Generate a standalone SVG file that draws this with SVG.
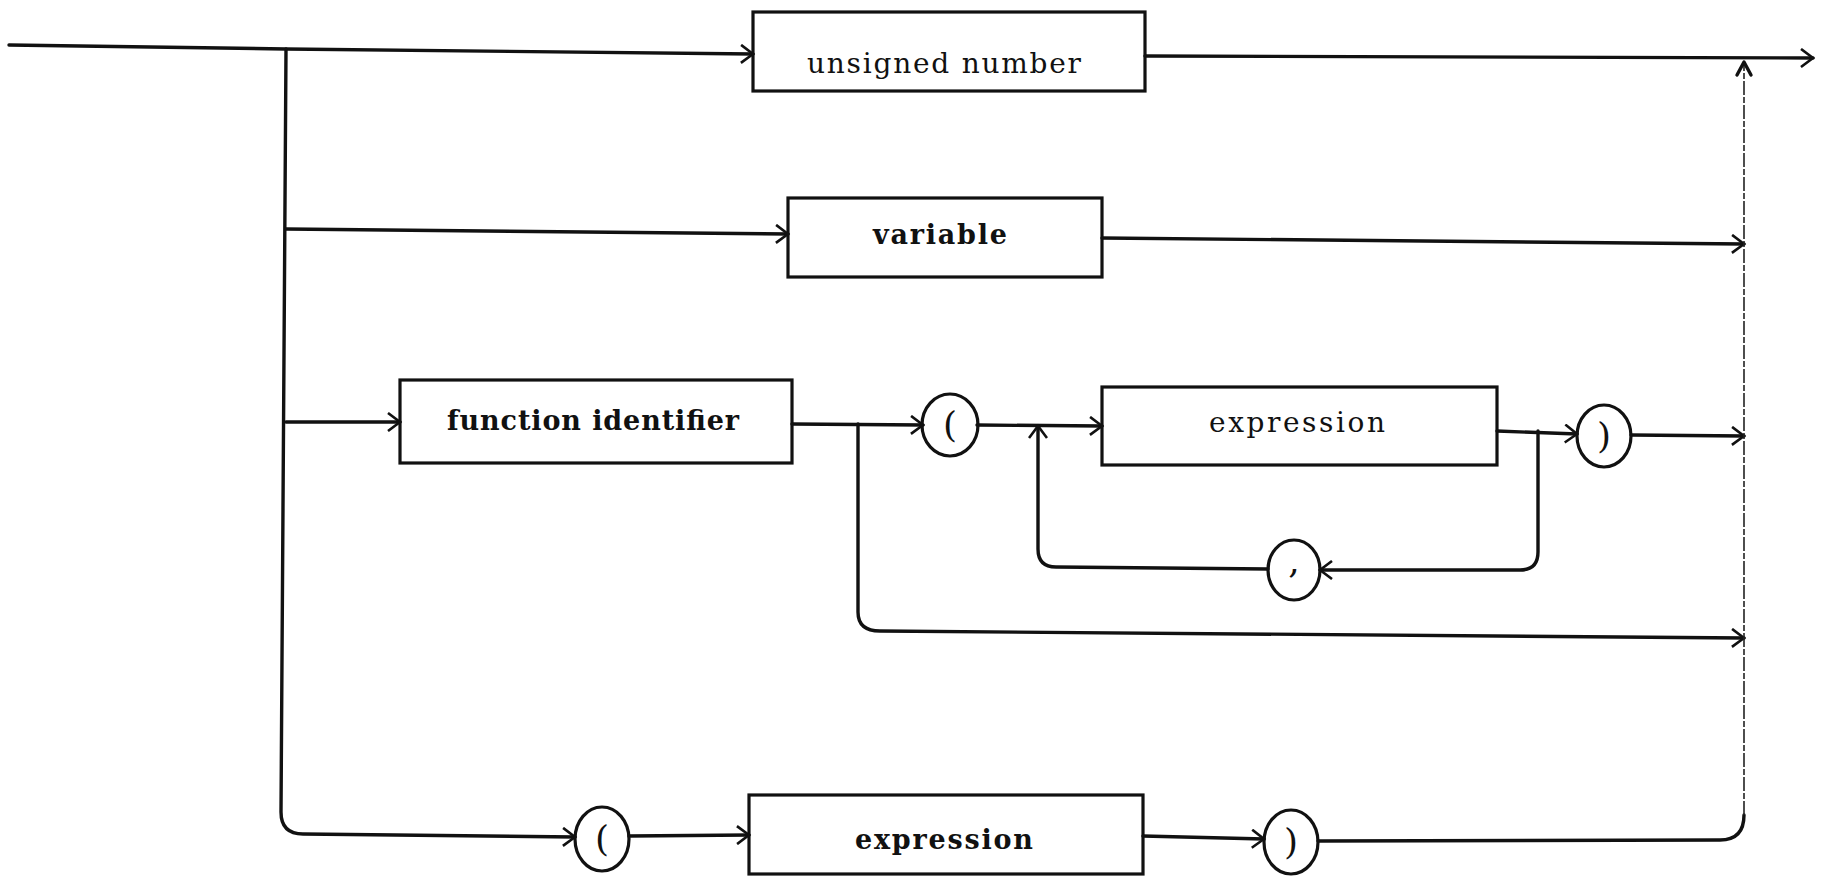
<svg xmlns="http://www.w3.org/2000/svg" width="1823" height="877" viewBox="0 0 1823 877">
<defs>
<marker id="arr" markerWidth="16" markerHeight="20" refX="13" refY="10" orient="auto" markerUnits="userSpaceOnUse">
<path d="M1,1 L13,10 L1,19" fill="none" stroke="#111" stroke-width="2.6"/>
</marker>
<style>
.ln{fill:none;stroke:#111;stroke-width:3.4;stroke-linecap:round;stroke-linejoin:round}
.thin{fill:none;stroke:#222;stroke-width:1.6;stroke-dasharray:14 2 6 2}
.box{fill:none;stroke:#111;stroke-width:3.2}
.circ{fill:none;stroke:#111;stroke-width:3.2}
.t{font-family:"DejaVu Serif","Liberation Serif",serif;font-size:28px;fill:#111;text-anchor:middle}
.b{font-weight:bold;font-size:27px}
.p{font-family:"DejaVu Serif","Liberation Serif",serif;font-size:36px;fill:#111;text-anchor:middle}
</style>
</defs>
<rect width="1823" height="877" fill="#fff"/>
<g id="connectors">
<path class="ln" d="M9,45 L286,49 L753,54" marker-end="url(#arr)"/>
<path class="ln" d="M286,49 L281,812 Q281,834 303,834 L575,837" marker-end="url(#arr)"/>
<path class="ln" d="M1145,56 L1813,58" marker-end="url(#arr)"/>
<path class="ln" d="M286,229 L788,234" marker-end="url(#arr)"/>
<path class="ln" d="M1102,238 L1744,244" marker-end="url(#arr)"/>
<path class="ln" d="M286,422 L400,422" marker-end="url(#arr)"/>
<path class="ln" d="M792,424 L923,425" marker-end="url(#arr)"/>
<path class="ln" d="M858,424 L858,612 Q858,631 880,631 L1744,638" marker-end="url(#arr)"/>
<path class="ln" d="M977,425 L1102,426" marker-end="url(#arr)"/>
<path class="ln" d="M1497,431 L1577,434" marker-end="url(#arr)"/>
<path class="ln" d="M1538,431 L1538,552 Q1538,570 1520,570 L1320,570" marker-end="url(#arr)"/>
<path class="ln" d="M1268,569 L1056,567 Q1038,567 1038,549 L1038,426" marker-end="url(#arr)"/>
<path class="ln" d="M1631,435 L1744,436" marker-end="url(#arr)"/>
<path class="ln" d="M629,836 L749,835" marker-end="url(#arr)"/>
<path class="ln" d="M1143,836 L1264,839" marker-end="url(#arr)"/>
<path class="ln" d="M1318,841 L1720,840 Q1744,840 1744,815"/>
<path class="thin" d="M1744,815 L1744,62"/>
<path class="ln" d="M1737,75 L1744,62 L1751,75"/>
</g>
<g id="n-unsigned-number">
<rect class="box" x="753" y="12" width="392" height="79"/>
<text class="t" x="944" y="73" textLength="274">unsigned number</text>
</g>
<g id="n-variable">
<rect class="box" x="788" y="198" width="314" height="79"/>
<text class="t b" x="940" y="244" textLength="134">variable</text>
</g>
<g id="n-function-identifier">
<rect class="box" x="400" y="380" width="392" height="83"/>
<text class="t b" x="593" y="430" textLength="292">function identifier</text>
</g>
<g id="n-lparen-1">
<ellipse class="circ" cx="950" cy="425" rx="28" ry="31"/>
<text class="p" x="950" y="437">(</text>
</g>
<g id="n-expression-1">
<rect class="box" x="1102" y="387" width="395" height="78"/>
<text class="t" x="1297" y="432" textLength="176">expression</text>
</g>
<g id="n-rparen-1">
<ellipse class="circ" cx="1604" cy="436" rx="27" ry="31"/>
<text class="p" x="1604" y="448">)</text>
</g>
<g id="n-comma">
<ellipse class="circ" cx="1294" cy="570" rx="26" ry="30"/>
<text class="p" x="1294" y="573">,</text>
</g>
<g id="n-lparen-2">
<ellipse class="circ" cx="602" cy="839" rx="27" ry="32"/>
<text class="p" x="602" y="851">(</text>
</g>
<g id="n-expression-2">
<rect class="box" x="749" y="795" width="394" height="79"/>
<text class="t b" x="944" y="849" textLength="178">expression</text>
</g>
<g id="n-rparen-2">
<ellipse class="circ" cx="1291" cy="842" rx="27" ry="32"/>
<text class="p" x="1291" y="854">)</text>
</g>
</svg>
